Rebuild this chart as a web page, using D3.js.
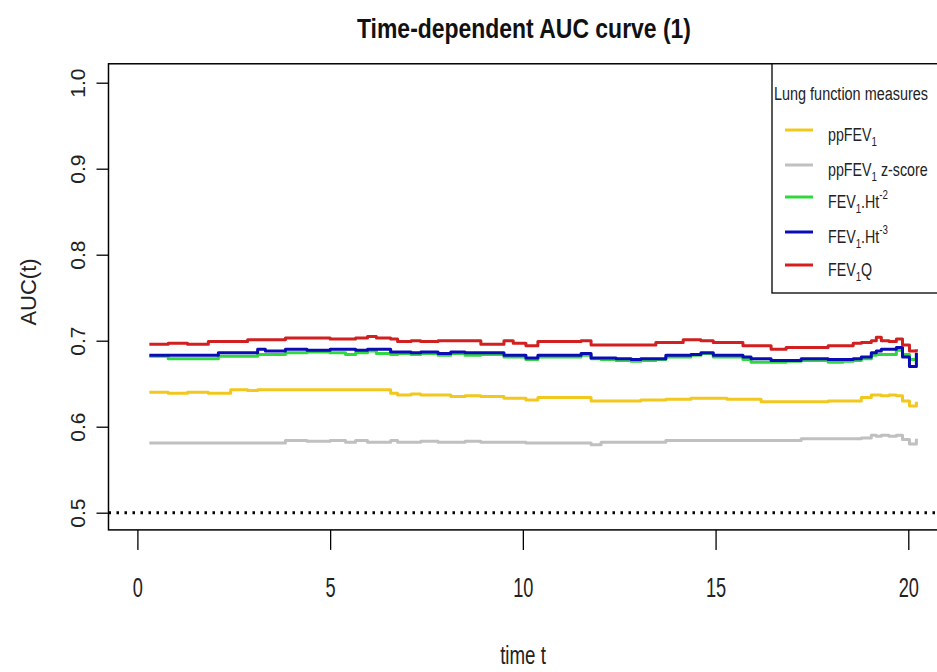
<!DOCTYPE html>
<html>
<head>
<meta charset="utf-8">
<script src="https://cdn.jsdelivr.net/npm/d3@7"></script>
<style>
  body { margin: 0; background: #fff; }
  svg { display: block; font-family: "Liberation Sans", Arial, sans-serif; }
</style>
</head>
<body>
<svg id="chart" width="937" height="672"></svg>
<script>
// Evaluation times (years) shared by all curves
const times = [0.31, 0.8, 1.3, 1.84, 2.1, 2.42, 2.86, 3.12, 3.32, 3.84,
  4.4, 5.0, 5.4, 5.66, 5.97, 6.2, 6.57, 6.75, 7.1, 7.35,
  7.8, 8.13, 8.5, 8.91, 9.2, 9.51, 9.75, 10.08, 10.39, 10.8,
  11.2, 11.51, 11.77, 12.03, 12.42, 12.81, 13.06, 13.45, 13.71, 14.16,
  14.36, 14.62, 14.94, 15.3, 15.71, 15.92, 16.18, 16.44, 16.83, 17.22,
  17.6, 17.92, 18.3, 18.57, 18.78, 19.04, 19.17, 19.3, 19.5, 19.69,
  19.85, 20.03, 20.21];

// Time-dependent AUC for each lung function measure
const aucPpFEV1 = [0.640, 0.639, 0.640, 0.639, 0.639, 0.643, 0.642, 0.643, 0.643, 0.643,
  0.643, 0.643, 0.643, 0.643, 0.643, 0.643, 0.639, 0.637, 0.638, 0.637,
  0.637, 0.635, 0.636, 0.635, 0.635, 0.633, 0.633, 0.631, 0.634, 0.634,
  0.634, 0.634, 0.630, 0.630, 0.630, 0.630, 0.631, 0.631, 0.632, 0.632,
  0.633, 0.633, 0.633, 0.632, 0.632, 0.632, 0.629, 0.629, 0.629, 0.629,
  0.629, 0.630, 0.630, 0.630, 0.634, 0.637, 0.637, 0.636, 0.637, 0.636,
  0.630, 0.624, 0.629];

const aucZscore = [0.581, 0.581, 0.581, 0.581, 0.581, 0.581, 0.581, 0.581, 0.581, 0.584,
  0.583, 0.584, 0.582, 0.584, 0.582, 0.582, 0.584, 0.582, 0.582, 0.583,
  0.582, 0.582, 0.583, 0.582, 0.582, 0.582, 0.582, 0.581, 0.581, 0.581,
  0.581, 0.581, 0.579, 0.582, 0.582, 0.582, 0.582, 0.582, 0.584, 0.584,
  0.584, 0.584, 0.584, 0.584, 0.584, 0.584, 0.584, 0.584, 0.584, 0.586,
  0.586, 0.586, 0.586, 0.586, 0.587, 0.590, 0.589, 0.590, 0.589, 0.590,
  0.585, 0.580, 0.586];

const aucHt2 = [0.682, 0.679, 0.679, 0.679, 0.682, 0.682, 0.682, 0.684, 0.684, 0.686,
  0.687, 0.686, 0.684, 0.686, 0.688, 0.685, 0.684, 0.685, 0.684, 0.685,
  0.683, 0.685, 0.683, 0.684, 0.684, 0.681, 0.681, 0.678, 0.681, 0.681,
  0.681, 0.683, 0.679, 0.678, 0.677, 0.676, 0.677, 0.678, 0.681, 0.681,
  0.683, 0.685, 0.681, 0.681, 0.678, 0.675, 0.675, 0.675, 0.676, 0.677,
  0.677, 0.675, 0.676, 0.677, 0.679, 0.683, 0.684, 0.684, 0.684, 0.689,
  0.684, 0.678, 0.685];

const aucHt3 = [0.683, 0.683, 0.683, 0.683, 0.686, 0.686, 0.686, 0.690, 0.688, 0.690,
  0.689, 0.690, 0.690, 0.689, 0.690, 0.690, 0.687, 0.687, 0.686, 0.687,
  0.685, 0.687, 0.686, 0.686, 0.686, 0.683, 0.683, 0.680, 0.683, 0.683,
  0.683, 0.685, 0.680, 0.680, 0.679, 0.678, 0.679, 0.679, 0.683, 0.683,
  0.684, 0.686, 0.683, 0.683, 0.681, 0.679, 0.679, 0.677, 0.677, 0.679,
  0.679, 0.678, 0.678, 0.679, 0.681, 0.686, 0.688, 0.690, 0.690, 0.692,
  0.681, 0.670, 0.686];

const aucQ = [0.696, 0.697, 0.696, 0.699, 0.699, 0.699, 0.701, 0.701, 0.701, 0.703,
  0.703, 0.702, 0.702, 0.703, 0.705, 0.703, 0.702, 0.699, 0.700, 0.699,
  0.700, 0.700, 0.700, 0.696, 0.696, 0.700, 0.697, 0.694, 0.699, 0.699,
  0.699, 0.700, 0.695, 0.695, 0.695, 0.695, 0.695, 0.698, 0.698, 0.701,
  0.701, 0.700, 0.698, 0.698, 0.694, 0.694, 0.694, 0.690, 0.692, 0.692,
  0.692, 0.694, 0.694, 0.697, 0.698, 0.700, 0.704, 0.700, 0.699, 0.702,
  0.695, 0.688, 0.690];

const seriesColors = ["#f2c81e", "#c0c0c0", "#2fd83c", "#0c0cb4", "#d21f1f"];
const xTicks = [0, 5, 10, 15, 20];
const yTicks = [0.5, 0.6, 0.7, 0.8, 0.9, 1.0];
const referenceAUC = 0.5;

const series = [aucPpFEV1, aucZscore, aucHt2, aucHt3, aucQ].map((vals, i) => ({
  color: seriesColors[i],
  points: times.map((t, j) => ({ t, v: vals[j] }))
}));

const svg = d3.select("#chart");
const x = d3.scaleLinear().domain([0, 20]).range([137.4, 908.3]);
const y = d3.scaleLinear().domain([0.5, 1.0]).range([512.7, 82.7]);

// plotting region (axis ranges padded as in base R graphics)
const box = { left: x(-0.75), right: x(21.0), top: y(1.022), bottom: y(0.48) };

svg.append("defs").append("clipPath").attr("id", "plotclip")
  .append("rect")
  .attr("x", box.left).attr("y", box.top)
  .attr("width", box.right - box.left).attr("height", box.bottom - box.top);

const plot = svg.append("g").attr("clip-path", "url(#plotclip)");

// reference line at AUC = 0.5
plot.append("line")
  .attr("x1", box.left).attr("x2", box.right)
  .attr("y1", y(referenceAUC)).attr("y2", y(referenceAUC))
  .attr("stroke", "#000").attr("stroke-width", 3)
  .attr("stroke-dasharray", "2.5,5.5");

const line = d3.line()
  .x(d => x(d.t))
  .y(d => y(d.v))
  .curve(d3.curveStepAfter);

plot.selectAll("path.auc")
  .data(series)
  .join("path")
  .attr("class", "auc")
  .attr("d", d => line(d.points))
  .attr("fill", "none")
  .attr("stroke", d => d.color)
  .attr("stroke-width", 3)
  .attr("stroke-linejoin", "round");

// frame
svg.append("rect")
  .attr("x", box.left).attr("y", box.top)
  .attr("width", box.right - box.left).attr("height", box.bottom - box.top)
  .attr("fill", "none").attr("stroke", "#000").attr("stroke-width", 1.5);

// y axis
const yAxis = svg.append("g")
  .attr("transform", `translate(${box.left},0)`)
  .call(d3.axisLeft(y).tickValues(yTicks).tickSize(12).tickFormat(d3.format(".1f")));
yAxis.select(".domain").remove();
yAxis.selectAll(".tick line").attr("stroke", "#000").attr("stroke-width", 1.3);
yAxis.selectAll(".tick text")
  .attr("font-family", "Liberation Sans, Arial, sans-serif")
  .attr("font-size", 21)
  .attr("fill", "#222")
  .attr("text-anchor", "middle")
  .attr("transform", "rotate(-90)")
  .attr("x", 0).attr("y", -23).attr("dy", 0);

// x axis
const xAxis = svg.append("g")
  .attr("transform", `translate(0,${box.bottom})`)
  .call(d3.axisBottom(x).tickValues(xTicks).tickSize(20).tickFormat(d3.format("d")));
xAxis.select(".domain").remove();
xAxis.selectAll(".tick line").attr("stroke", "#000").attr("stroke-width", 1.3);
xAxis.selectAll(".tick text")
  .attr("font-family", "Liberation Sans, Arial, sans-serif")
  .attr("font-size", 28)
  .attr("fill", "#222")
  .attr("text-anchor", "middle")
  .attr("x", null).attr("y", null).attr("dy", null)
  .attr("transform", `translate(0,${597 - box.bottom}) scale(0.65,1)`);

// axis titles
svg.append("text")
  .attr("transform", "translate(523,664) scale(0.72,1)")
  .attr("text-anchor", "middle")
  .attr("font-size", 26).attr("fill", "#222")
  .text("time t");

svg.append("text")
  .attr("transform", "translate(36,292) rotate(-90)")
  .attr("text-anchor", "middle")
  .attr("font-size", 22).attr("fill", "#222")
  .text("AUC(t)");

// chart title
svg.append("text")
  .attr("x", 524).attr("y", 38)
  .attr("text-anchor", "middle")
  .attr("font-size", 27).attr("font-weight", "bold").attr("fill", "#111")
  .attr("textLength", 334).attr("lengthAdjust", "spacingAndGlyphs")
  .text("Time-dependent AUC curve (1)");

// legend
const legendLeft = 772, legendBottom = 293;
svg.append("rect")
  .attr("x", legendLeft).attr("y", box.top)
  .attr("width", box.right - legendLeft).attr("height", legendBottom - box.top)
  .attr("fill", "#fff").attr("stroke", "#000").attr("stroke-width", 1.3);

svg.append("text")
  .attr("transform", "translate(774,99.5) scale(0.76,1)")
  .attr("font-size", 19).attr("fill", "#222")
  .text("Lung function measures");

// label pieces: [text, kind] where kind is "", "sub" or "sup"
const legendLabels = [
  [["ppFEV", ""], ["1", "sub"]],
  [["ppFEV", ""], ["1", "sub"], [" z-score", ""]],
  [["FEV", ""], ["1", "sub"], [".Ht", ""], ["-2", "sup"]],
  [["FEV", ""], ["1", "sub"], [".Ht", ""], ["-3", "sup"]],
  [["FEV", ""], ["1", "sub"], ["Q", ""]]
];
const legendRows = [130, 165, 197, 232, 265];

const items = svg.selectAll("g.legend-item")
  .data(series)
  .join("g")
  .attr("class", "legend-item");

items.append("line")
  .attr("x1", 785).attr("x2", 813)
  .attr("y1", (d, i) => legendRows[i]).attr("y2", (d, i) => legendRows[i])
  .attr("stroke", d => d.color).attr("stroke-width", 3);

items.each(function (d, i) {
  const t = d3.select(this).append("text")
    .attr("transform", `translate(828,${legendRows[i] + 11}) scale(0.75,1)`)
    .attr("font-size", 19).attr("fill", "#222");
  let shift = 0;
  legendLabels[i].forEach(([str, kind]) => {
    const target = kind === "sub" ? 5 : kind === "sup" ? -9 : 0;
    t.append("tspan")
      .attr("dy", target - shift)
      .attr("font-size", kind ? 13 : 19)
      .text(str);
    shift = target;
  });
});
</script>
</body>
</html>
